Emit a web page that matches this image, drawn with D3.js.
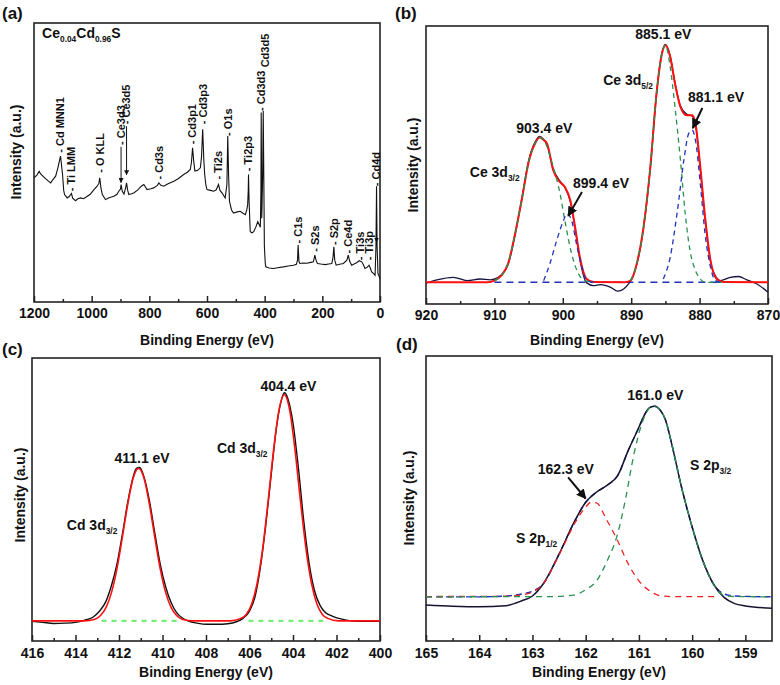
<!DOCTYPE html>
<html>
<head>
<script src="https://cdn.jsdelivr.net/npm/d3@7"></script>
<style>
  body { margin: 0; background: #fff; }
  text { font-family: "Liberation Sans", Arial, sans-serif; font-weight: bold; fill: #111; }
</style>
</head>
<body>
<script>
// ---- (a) survey spectrum: [binding energy, intensity]
var surveyData = [[1200,44.5],[1190,45.5],[1182,46.8],[1177,45.9],[1170,45.2],[1160,44.2],[1152,43.5],[1142,42.7],[1135,43.8],[1125,45.1],[1117,48.1],[1110,51.5],[1108,52.3],[1105,49.5],[1101,45.7],[1097,40],[1094,38.5],[1085,37.3],[1078,37.8],[1070,38.9],[1066,37.2],[1056,36.3],[1048,37.0],[1038,37.3],[1028,37.0],[1015,37.9],[1005,38.6],[992,40.3],[981,41.5],[975,42.5],[972,44.5],[968,41.0],[963,38.5],[952,36.7],[940,37.4],[923,37.9],[912,38.6],[906,39.7],[900,40.5],[898,42.1],[894,39.8],[888,38.7],[882,41.0],[879,42.7],[875,40.0],[871,38.5],[862,38.8],[854,39.1],[840,40.2],[828,41.5],[819,42.1],[808,40.3],[795,40.6],[785,40.9],[772,41.8],[767,42.7],[760,41.8],[750,41.5],[735,42.4],[715,43.3],[700,44.2],[681,45.7],[668,46.5],[658,47.5],[654,50],[650,55.3],[646,50.5],[642,46.9],[632,47.2],[623,48.1],[619,52],[615,61.9],[611,51],[608,45.7],[604,42],[600,40.3],[588,40.0],[577,39.7],[568,40.2],[560,42.1],[555,40.0],[548,39.1],[537,37.3],[531,42],[528,59.5],[525,45],[522,36.1],[515,33],[508,31.9],[495,32.3],[485,32.5],[475,31.8],[467,31.3],[462,33],[459,34.9],[457,40],[456,45.7],[454,36],[450,25.2],[444,24.8],[438,25.2],[430,27],[424,28.8],[418,27.5],[415,26.8],[413,40],[412,67.9],[410,30],[407,45],[405,68.5],[403,45],[401,20],[398,14],[396,12.6],[385,12.2],[369,12.0],[355,12.3],[335,12.6],[318,12.9],[300,13.2],[290,13.5],[286,15],[284,20.4],[281,14.5],[278,13.8],[266,14],[254,13.9],[240,14.2],[231,14.4],[226,16.8],[222,15],[217,13.8],[205,13.6],[190,13.4],[178,13.6],[167,13.8],[163,16],[160,19.8],[157,15],[152,13.2],[140,13.5],[127,13.8],[115,15],[110,16.8],[105,14.5],[98,13.2],[90,13.6],[81,14.1],[72,14.8],[63,14.4],[56,13],[52,12],[44,12.5],[38,13.2],[33,12],[29,10.8],[22,10.2],[17,9.6],[14,20],[12,41.5],[10,20],[7,10.2],[3,9.2],[0,8.4]];
// peak labels: [name, energy, intensity at foot of label]
var surveyLabels = [["- Cd MNN1",1108,53.5],["- Ti LMM",1070,39.7],["- O KLL",972,46.3],["- Ce3d3",898,56.3],["- Ce3d5",879,63.7],["- Cd3s",767,43.9],["- Cd3p1",650,56.5],["- Cd3p3",615,63.7],["- Ti2s",560,43.9],["- O1s",528,59.5],["- Ti2p3",456,46.9],["- Cd3d3",412,68.5],["Cd3d5",398,84.1],["- C1s",283,21],["- S2s",224,18],["- S2p",160,20.4],["- Ce4d",110,17.4],["- Ti3s",69,15],["- Ti3p",38,15],["- Cd4d",14,41.5]];
var surveyArrows = [[898,55.6,42.8],[879,63,45.6],[12,24.5,21.5]];

// ---- (b) Ce 3d
var ceMeasured = [[920,7.5],[918.4,8.7],[916,9.6],[914,8.4],[912.1,9.0],[910.6,8.7],[909.5,9.5],[908.5,11.8],[908,14.2],[907,24.5],[906,37.8],[905,51.5],[904,58.5],[903.4,60.3],[902.8,59.2],[902.3,57.2],[901.4,48.6],[900.4,44.2],[899.7,42.0],[898.9,36.8],[898.2,27.2],[897.5,16.0],[896.5,7.6],[895.5,6.6],[894.5,7.0],[893,6.0],[892,4.6],[891.1,5.4],[890.4,7.2],[889.7,10.2],[889.2,14.0],[888.2,27.2],[887.2,49.0],[886.3,75.5],[885.5,90.4],[885.0,93.4],[884.3,89.2],[883.6,79.6],[882.8,71.2],[881.9,68.3],[881.1,67.6],[880.6,64.4],[879.9,48.6],[879.2,30.6],[878.4,15.2],[877.5,9.4],[877,8.4],[875.5,9.6],[874.3,9.9],[873.1,8.7],[871.6,7.2],[870,4.2]];
var ceFit = [[920,7.8],[911,7.8],[910,8.4],[909,10.2],[908,14.5],[907,25],[906,37.5],[905,51],[904,58],[903.4,59.9],[902.8,59],[902.3,57.7],[901.4,48.1],[900.4,43.8],[899.7,42.1],[898.9,37.3],[898.2,27.6],[897.5,16.8],[896.5,9],[895.5,7.9],[891,7.8],[890.1,8.4],[889.2,14.4],[888.2,27.6],[887.2,49.3],[886.3,75.7],[885.5,90.1],[885,93.1],[884.3,88.9],[883.6,79.3],[882.8,70.9],[881.9,67.9],[881.1,67.9],[880.6,64.9],[879.9,49.3],[879.2,31.3],[878.4,15.6],[877.5,9.0],[876.5,7.9],[870,7.8]];
var ceGreen1 = [[910,8.4],[909,10.2],[908,14.5],[907,25],[906,37.5],[905,51],[904,58],[903.4,59.9],[902.8,59],[902.3,56.5],[901.4,49.3],[900.4,39.7],[899.7,30],[898.7,18],[897.7,10.8],[896.7,8.4],[895.5,7.8]];
var ceGreen2 = [[890.1,8.4],[889.2,14.4],[888.2,27.6],[887.2,49.3],[886.3,75.7],[885.5,90.1],[885,93.1],[884.3,85.3],[883.6,70.9],[882.8,51.7],[882.1,32.5],[881.4,19.2],[880.6,12],[879.9,9.0],[879.2,7.8],[876,7.8]];
var ceBlue1 = [[902.8,8.4],[901.9,14.4],[900.9,22.8],[899.9,30],[899.4,32.5],[898.7,30],[898,21.6],[897.2,13.2],[896.5,8.4],[895.5,7.8]];
var ceBlue2 = [[885.3,9.0],[884.3,16.8],[883.3,32.5],[882.3,51.7],[881.6,61.3],[881.1,62.5],[880.6,58.9],[879.9,43.3],[879.2,25.2],[878.4,13.2],[877.7,8.4],[876.8,7.8]];
var ceBase = [[910,7.8],[877,7.8]];

// ---- (c) Cd 3d
var cdMeasured = [[416,7.0],[415.5,6.6],[415,6.2],[414.5,6.3],[414,6.6],[413.6,7.3],[413.2,8.4],[412.9,10.5],[412.6,14],[412.35,19.5],[412.1,27],[411.85,37.5],[411.6,49],[411.35,58],[411.2,61],[411.05,61.3],[410.85,58],[410.6,49.5],[410.35,38],[410.1,27],[409.85,19],[409.6,13.5],[409.35,10],[409.1,8.2],[408.8,7],[408.4,6.3],[408,5.9],[407.5,5.9],[407,6.1],[406.6,6.8],[406.3,8],[406,10.5],[405.75,15.5],[405.5,26],[405.25,41],[405,59],[404.75,76],[404.5,86],[404.4,87.7],[404.25,86],[404,77],[403.75,61],[403.5,42],[403.25,27],[403,17.5],[402.75,12.5],[402.5,10],[402.2,8.8],[401.8,7.8],[401.4,7.2],[401,7.0],[400,7.0]];
var cdFit = [[416,7.1],[413.6,7.1],[413.1,7.7],[412.85,9],[412.6,11.8],[412.35,17],[412.1,25.3],[411.85,36.4],[411.6,48.2],[411.35,57.5],[411.1,61],[410.85,57.5],[410.6,48.2],[410.35,36.4],[410.1,25.3],[409.85,17],[409.6,11.8],[409.35,9],[409.1,7.7],[408.6,7.1],[406.9,7.1],[406.4,8],[406.15,9.4],[405.9,13.1],[405.65,20.4],[405.4,32.4],[405.15,49],[404.9,67],[404.65,81.4],[404.4,87],[404.15,81.4],[403.9,67],[403.65,49],[403.4,32.4],[403.15,20.4],[402.9,13.1],[402.65,9.4],[402.4,8],[401.9,7.1],[400,7.1]];
var cdBase1 = [[412.8,7.1],[409.35,7.1]];
var cdBase2 = [[406.05,7.1],[402.5,7.1]];

// ---- (d) S 2p
var sMeasured = [[165,12.6],[164.5,12.2],[164,12],[163.5,12.4],[163.2,14.1],[163,15.8],[162.8,20],[162.5,30.5],[162.2,42.3],[162,48.7],[161.8,52.2],[161.6,54.6],[161.4,58],[161.2,66.9],[161,75],[160.9,79.2],[160.8,81.9],[160.7,82.4],[160.6,81],[160.5,77.5],[160.4,70.4],[160.2,54],[160,40],[159.8,28.2],[159.6,20],[159.4,15.3],[159.2,13.1],[159,12.3],[158.5,11.5]];
var sRed = [[165,15.6],[163.5,15.7],[163.2,16.2],[163,17.2],[162.8,20],[162.6,26.5],[162.4,34],[162.2,41.5],[162,47],[161.9,48.7],[161.8,48.5],[161.6,42.3],[161.4,35.2],[161.2,27],[161,21.1],[160.8,17.6],[160.6,15.9],[160.4,15.6],[159.5,15.6]];
var sGreen = [[165,15.5],[162.6,15.6],[162.2,16.2],[162,18],[161.8,21],[161.6,28],[161.4,37.6],[161.25,50],[161.1,65],[160.95,76],[160.85,80.5],[160.75,82.4],[160.6,81],[160.5,77.5],[160.4,70.4],[160.2,54],[160,40],[159.8,28.2],[159.6,20],[159.4,16],[159.2,15.6],[158.5,15.5]];
var sBlue = [[165,15.5],[164,15.5],[163.5,15.8],[163.2,16.5],[163,17.5],[162.8,20],[162.5,30.5],[162.2,42.3],[162,48.7],[161.8,52.2],[161.6,54.6],[161.4,58],[161.2,66.9],[161,75],[160.9,79.2],[160.8,81.9],[160.7,82.4],[160.6,81],[160.5,77.5],[160.4,70.4],[160.2,54],[160,40],[159.8,28.2],[159.6,20],[159.4,16.5],[159.2,15.8],[158.5,15.5]];

// tick labels
var ticksA = [1200,1000,800,600,400,200,0];
var ticksB = [920,910,900,890,880,870];
var ticksC = [416,414,412,410,408,406,404,402,400];
var ticksD = [165,164,163,162,161,160,159];

var svg = d3.select("body").append("svg")
    .attr("width", 780)
    .attr("height", 685);

var defs = svg.append("defs");
function marker(id, size) {
  defs.append("marker")
      .attr("id", id)
      .attr("viewBox", "0 0 10 10")
      .attr("refX", 9).attr("refY", 5)
      .attr("markerUnits", "userSpaceOnUse")
      .attr("markerWidth", size).attr("markerHeight", size)
      .attr("orient", "auto")
    .append("path")
      .attr("d", "M0,0L10,5L0,10z")
      .attr("fill", "#111");
}
marker("arrSmall", 5);
marker("arrBig", 10);

function panel(o) {
  var x = d3.scaleLinear().domain(o.xDomain).range([o.box[0], o.box[1]]);
  var y = d3.scaleLinear().domain([0, 100]).range([o.box[3], o.box[2]]);
  var g = svg.append("g");

  // minor + major ticks pointing inward
  var xa = g.append("g").attr("transform", "translate(0," + o.box[3] + ")");
  xa.call(d3.axisBottom(x).tickValues(o.minor).tickSize(-3).tickFormat(""));
  var xb = g.append("g").attr("transform", "translate(0," + o.box[3] + ")");
  xb.call(d3.axisBottom(x).tickValues(o.ticks).tickSize(-6).tickPadding(o.pad).tickFormat(d3.format("d")));
  g.selectAll(".domain").remove();
  g.selectAll(".tick line").attr("stroke", "#222").attr("stroke-width", 1.5);
  xb.selectAll("text")
      .attr("font-size", 14)
      .attr("font-family", "Liberation Sans, Arial, sans-serif")
      .attr("font-weight", "bold")
      .attr("fill", "#111");

  g.append("rect")
      .attr("x", o.box[0]).attr("y", o.box[2])
      .attr("width", o.box[1] - o.box[0]).attr("height", o.box[3] - o.box[2])
      .attr("fill", "none").attr("stroke", "#222").attr("stroke-width", 1.6);

  g.append("text")
      .attr("x", (o.box[0] + o.box[1]) / 2)
      .attr("y", o.titleY)
      .attr("text-anchor", "middle")
      .attr("font-size", 14)
      .text("Binding Energy (eV)");

  g.append("text")
      .attr("transform", "translate(" + o.yLabel[0] + "," + o.yLabel[1] + ") rotate(-90)")
      .attr("dy", "0.35em")
      .attr("text-anchor", "middle")
      .attr("font-size", 14)
      .text("Intensity (a.u.)");

  g.append("text")
      .attr("x", o.tag[0]).attr("y", o.tag[1])
      .attr("font-size", 17)
      .text(o.name);

  var plot = g.append("g");
  o.series.forEach(function(s) {
    var line = d3.line()
        .x(function(d) { return x(d[0]); })
        .y(function(d) { return y(d[1]); })
        .curve(s.curve || d3.curveMonotoneX);
    plot.append("path")
        .datum(s.data)
        .attr("d", line)
        .attr("fill", "none")
        .attr("stroke", s.color)
        .attr("stroke-width", s.width)
        .attr("stroke-dasharray", s.dash || null);
  });

  return { g: g, x: x, y: y };
}

// label with a subscript part
function subText(g, px, py, parts, size, anchor) {
  var t = g.append("text").attr("x", px).attr("y", py)
      .attr("font-size", size)
      .attr("text-anchor", anchor || "start");
  var down = false;
  parts.forEach(function(p, i) {
    var isSub = i % 2 == 1;
    var ts = t.append("tspan").text(p);
    if (isSub) { ts.attr("font-size", size * 0.6).attr("dy", 4); down = true; }
    else if (down) { ts.attr("dy", -4); down = false; }
  });
  return t;
}

// ---------- (a)
var pa = panel({
  name: "(a)", tag: [2, 19],
  box: [34, 380, 23, 302], xDomain: [1200, 0],
  ticks: ticksA, minor: d3.range(1100, 0, -200), pad: 6,
  titleY: 345, yLabel: [16, 152],
  series: [{ data: surveyData, color: "#111", width: 1.1, curve: d3.curveLinear }]
});
pa.g.selectAll(".pk")
    .data(surveyLabels)
  .enter().append("text")
    .attr("class", "pk")
    .attr("transform", function(d) { return "translate(" + pa.x(d[1]) + "," + pa.y(d[2]) + ") rotate(-90)"; })
    .attr("dy", "0.35em")
    .attr("font-size", 11)
    .text(function(d) { return d[0]; });
pa.g.selectAll(".ar")
    .data(surveyArrows)
  .enter().append("line")
    .attr("x1", function(d) { return pa.x(d[0]); })
    .attr("x2", function(d) { return pa.x(d[0]); })
    .attr("y1", function(d) { return pa.y(d[1]); })
    .attr("y2", function(d) { return pa.y(d[2]); })
    .attr("stroke", "#111").attr("stroke-width", 1)
    .attr("marker-end", "url(#arrSmall)");
subText(pa.g, pa.x(1172), pa.y(94.6), ["Ce", "0.04", "Cd", "0.96", "S"], 14);

// ---------- (b)
var pb = panel({
  name: "(b)", tag: [395, 19],
  box: [426, 768, 26, 304], xDomain: [920, 870],
  ticks: ticksB, minor: [915, 905, 895, 885, 875], pad: 6,
  titleY: 345, yLabel: [413, 165],
  series: [
    { data: ceBase, color: "#2233bb", width: 1.4, dash: "7,5" },
    { data: ceMeasured, color: "#141440", width: 1.3 },
    { data: ceFit, color: "#ff1010", width: 2 },
    { data: ceGreen1, color: "#2a9050", width: 1.3, dash: "5,4" },
    { data: ceGreen2, color: "#2a9050", width: 1.3, dash: "5,4" },
    { data: ceBlue1, color: "#2233bb", width: 1.3, dash: "5,4" },
    { data: ceBlue2, color: "#2233bb", width: 1.3, dash: "5,4" }
  ]
});
pb.g.append("text").attr("x", pb.x(906.8)).attr("y", pb.y(61.5)).attr("font-size", 14).text("903.4 eV");
subText(pb.g, pb.x(913.6), pb.y(45.7), ["Ce 3d", "3/2"], 14);
pb.g.append("text").attr("x", pb.x(898.5)).attr("y", pb.y(41.7)).attr("font-size", 14).text("899.4 eV");
pb.g.append("text").attr("x", pb.x(889.4)).attr("y", pb.y(95.3)).attr("font-size", 14).text("885.1 eV");
subText(pb.g, pb.x(894.1), pb.y(78.8), ["Ce 3d", "5/2"], 14);
pb.g.append("text").attr("x", pb.x(881.7)).attr("y", pb.y(72.7)).attr("font-size", 14).text("881.1 eV");
[[897.2, 40.3, 899.2, 31.7], [879.6, 70.5, 881.0, 63.3]].forEach(function(a) {
  pb.g.append("line")
      .attr("x1", pb.x(a[0])).attr("y1", pb.y(a[1]))
      .attr("x2", pb.x(a[2])).attr("y2", pb.y(a[3]))
      .attr("stroke", "#111").attr("stroke-width", 2)
      .attr("marker-end", "url(#arrBig)");
});

// ---------- (c)
var pc = panel({
  name: "(c)", tag: [2, 355],
  box: [32, 380, 358, 641], xDomain: [416, 400],
  ticks: ticksC, minor: d3.range(415, 400, -2), pad: 7,
  titleY: 677, yLabel: [20, 495],
  series: [
    { data: cdMeasured, color: "#111", width: 1.4 },
    { data: cdFit, color: "#ff1010", width: 1.6 },
    { data: cdBase1, color: "#77ee77", width: 2.2, dash: "5,5" },
    { data: cdBase2, color: "#77ee77", width: 2.2, dash: "5,5" }
  ]
});
pc.g.append("text").attr("x", pc.x(410.94)).attr("y", pc.y(63)).attr("text-anchor", "middle").attr("font-size", 14).text("411.1 eV");
subText(pc.g, pc.x(414.4), pc.y(39.3), ["Cd 3d", "3/2"], 14);
pc.g.append("text").attr("x", pc.x(405.5)).attr("y", pc.y(88.3)).attr("font-size", 14).text("404.4 eV");
subText(pc.g, pc.x(407.5), pc.y(66.5), ["Cd 3d", "3/2"], 14);

// ---------- (d)
var pd = panel({
  name: "(d)", tag: [396, 350],
  box: [426, 772, 356, 641], xDomain: [165, 158.5],
  ticks: ticksD, minor: [164.5, 163.5, 162.5, 161.5, 160.5, 159.5], pad: 7,
  titleY: 677, yLabel: [409, 498],
  series: [
    { data: sBlue, color: "#2233bb", width: 1.4, dash: "6,4" },
    { data: sMeasured, color: "#141430", width: 1.5 },
    { data: sRed, color: "#ee2222", width: 1.3, dash: "6,5" },
    { data: sGreen, color: "#2a9050", width: 1.3, dash: "6,5" }
  ]
});
pd.g.append("text").attr("x", pd.x(161.22)).attr("y", pd.y(84.5)).attr("font-size", 14).text("161.0 eV");
pd.g.append("text").attr("x", pd.x(162.9)).attr("y", pd.y(58.7)).attr("font-size", 14).text("162.3 eV");
subText(pd.g, pd.x(163.31), pd.y(34.5), ["S 2p", "1/2"], 14);
subText(pd.g, pd.x(160.04), pd.y(59.9), ["S 2p", "3/2"], 14);
pd.g.append("line")
    .attr("x1", pd.x(162.33)).attr("y1", pd.y(57.4))
    .attr("x2", pd.x(162.0)).attr("y2", pd.y(50))
    .attr("stroke", "#111").attr("stroke-width", 2)
    .attr("marker-end", "url(#arrBig)");
</script>
</body>
</html>
